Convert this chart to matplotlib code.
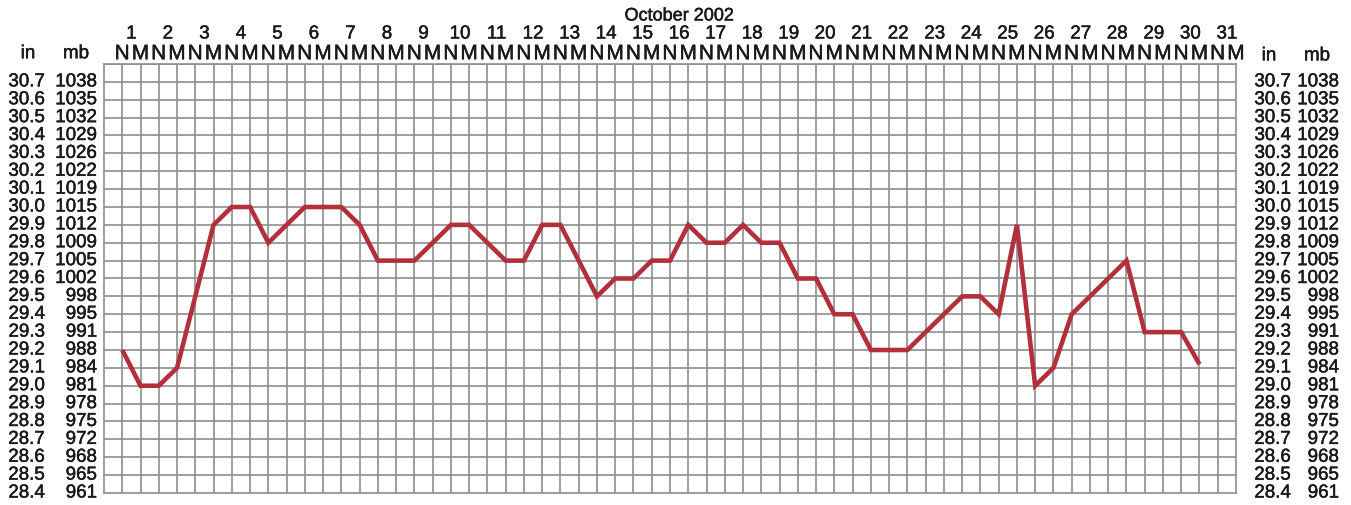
import matplotlib
matplotlib.use("Agg")
import matplotlib.pyplot as plt
import matplotlib.patheffects as pe
import numpy as np

# Barometric pressure readings, October 2002, taken at noon (N) and midnight (M)
days = list(range(1, 32))
half_labels = ["N", "M"]
pressure_in = [
    29.2, 29.0, 29.0, 29.1, 29.5, 29.9, 30.0, 30.0, 29.8, 29.9,   # 1N - 5M
    30.0, 30.0, 30.0, 29.9, 29.7, 29.7, 29.7, 29.8, 29.9, 29.9,   # 6N - 10M
    29.8, 29.7, 29.7, 29.9, 29.9, 29.7, 29.5, 29.6, 29.6, 29.7,   # 11N - 15M
    29.7, 29.9, 29.8, 29.8, 29.9, 29.8, 29.8, 29.6, 29.6, 29.4,   # 16N - 20M
    29.4, 29.2, 29.2, 29.2, 29.3, 29.4, 29.5, 29.5, 29.4, 29.9,   # 21N - 25M
    29.0, 29.1, 29.4, 29.5, 29.6, 29.7, 29.3, 29.3, 29.3, 29.12,  # 26N - 30M
]
scale_in = [30.7, 30.6, 30.5, 30.4, 30.3, 30.2, 30.1, 30.0, 29.9, 29.8, 29.7, 29.6,
            29.5, 29.4, 29.3, 29.2, 29.1, 29.0, 28.9, 28.8, 28.7, 28.6, 28.5, 28.4]
scale_mb = [1038, 1035, 1032, 1029, 1026, 1022, 1019, 1015, 1012, 1009, 1005, 1002,
            998, 995, 991, 988, 984, 981, 978, 975, 972, 968, 965, 961]
title = "October 2002"

W, H = 1351, 506
fig = plt.figure(figsize=(W / 100, H / 100), dpi=100)
px_l, px_r, px_t, px_b = 104, 1236, 65, 494
ax = fig.add_axes([px_l / W, 1 - px_b / H, (px_r - px_l) / W, (px_b - px_t) / H])

n_slots = 2 * len(days)
x = np.arange(1, len(pressure_in) + 1)

grid_col = "#8e8e8e"
ax.set_xlim(0, n_slots)
ax.set_ylim(28.4, 30.8)
for k in range(1, n_slots):
    ax.axvline(k, color=grid_col, lw=1.2, zorder=1)
for v in np.arange(28.5, 30.8, 0.1):
    ax.axhline(v, color=grid_col, lw=1.2, zorder=1)
for s in ax.spines.values():
    s.set_color(grid_col)
    s.set_linewidth(1.2)
ax.set_xticks([])
ax.set_yticks([])

ax.plot(x, pressure_in, color="#b22f3c", lw=3.3, solid_joinstyle="miter",
        solid_capstyle="butt", zorder=3)

ink = "#1a1a1a"
heavy = [pe.withStroke(linewidth=0.35, foreground=ink)]
txt = dict(family="Liberation Sans", color=ink, path_effects=heavy)

# top header: month, day numbers, N/M columns
xt = ax.get_xaxis_transform()
ax.text(31.5, 1.112, title, transform=xt, ha="center", va="center", fontsize=13, **txt)
for i, d in enumerate(days):
    ax.text(2 * i + 1.5, 1.070, str(d), transform=xt, ha="center", va="center",
            fontsize=13.5, **txt)
    for j, lab in enumerate(half_labels):
        ax.text(2 * i + 1 + j, 1.024, lab, transform=xt, ha="center", va="center",
                fontsize=15, **txt)

# pressure scales on both sides
yt = ax.get_yaxis_transform()
def ax_x(px):
    return (px - px_l) / (px_r - px_l)

for xin, xmb in [(ax_x(45), ax_x(97)), (ax_x(1291), ax_x(1339))]:
    for vin, vmb in zip(scale_in, scale_mb):
        ax.text(xin, vin, f"{vin:.1f}", transform=yt, ha="right", va="center",
                fontsize=13.5, **txt)
        ax.text(xmb, vin, str(vmb), transform=yt, ha="right", va="center",
                fontsize=13.5, **txt)

for px, lab, dy in [(28, "in", 0.0), (76, "mb", 0.0), (1269, "in", -0.005), (1317, "mb", -0.005)]:
    ax.text(ax_x(px), 1.024 + dy, lab, transform=ax.transAxes, ha="center", va="center",
            fontsize=13.5, **txt)

fig.savefig("out.png", dpi=100)
